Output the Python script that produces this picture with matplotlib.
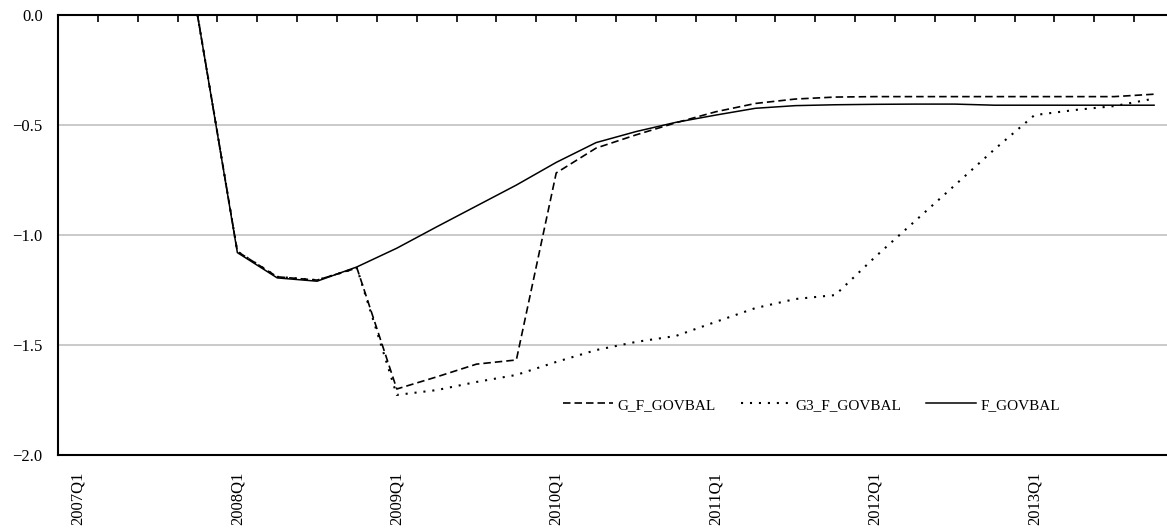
import numpy as np
import matplotlib
matplotlib.use("Agg")
import matplotlib.pyplot as plt

plt.rcParams["font.family"] = ["Liberation Serif", "DejaVu Serif"]
plt.rcParams["font.size"] = 12

# quarterly periods 2007Q1 .. 2013Q4
quarters = [f"{y}Q{q}" for y in range(2007, 2014) for q in range(1, 5)]

nan = np.nan
# government balance, three scenarios
g_f_govbal = [nan, nan, nan, 0.0, -1.075, -1.19, -1.205, -1.15,
              -1.70, -1.645, -1.587, -1.568, -0.718, -0.605, -0.545, -0.49,
              -0.44, -0.402, -0.382, -0.373, -0.371, -0.371, -0.371, -0.371,
              -0.371, -0.371, -0.371, -0.36]
g3_f_govbal = [nan, nan, nan, 0.0, -1.075, -1.19, -1.205, -1.15,
               -1.727, -1.705, -1.668, -1.636, -1.577, -1.523, -1.486, -1.459,
               -1.395, -1.332, -1.291, -1.273, -1.10, -0.937, -0.774, -0.61,
               -0.455, -0.432, -0.414, -0.38]
f_govbal = [nan, nan, nan, 0.0, -1.08, -1.195, -1.21, -1.145,
            -1.06, -0.963, -0.868, -0.773, -0.67, -0.58, -0.53, -0.488,
            -0.455, -0.424, -0.412, -0.408, -0.406, -0.405, -0.405, -0.41,
            -0.41, -0.41, -0.41, -0.41]

yticks = [0.0, -0.5, -1.0, -1.5, -2.0]

fig = plt.figure(figsize=(11.67, 5.30), dpi=100)
# right edge of the plot area runs a little past the figure
ax = fig.add_axes([58 / 1167, 1 - 455 / 530, 1116 / 1167, 440 / 530])

x = np.arange(len(quarters))
ax.plot(x, g_f_govbal, color="black", lw=1.2, ls=(0, (4.5, 2.4)), label="G_F_GOVBAL")
ax.plot(x, g3_f_govbal, color="black", lw=1.5, ls=(0, (1, 3.3)), label="G3_F_GOVBAL")
ax.plot(x, f_govbal, color="black", lw=1.1, ls="-", label="F_GOVBAL")

ax.set_xlim(-0.5, len(quarters) - 0.5)
ax.set_ylim(-2.0, 0.0)
ax.set_yticks(yticks)
ax.set_yticklabels([f"{v:.1f}".replace("-", "\u2212") for v in yticks])
for v in yticks[1:-1]:
    ax.axhline(v, color="#c6c6c6", lw=1.3, zorder=0)

q1 = [i for i, q in enumerate(quarters) if q.endswith("Q1")]
ax.set_xticks(q1)
ax.set_xticklabels([quarters[i] for i in q1], rotation=90, va="top")
ax.set_xticks(np.arange(0.5, len(quarters) - 0.5, 1.0), minor=True)
ax.tick_params(axis="x", which="major", length=0, pad=12)
ax.tick_params(axis="x", which="minor", top=True, bottom=False,
               direction="in", length=5, width=1.2)
ax.tick_params(axis="y", length=0, pad=11)

for side in ["top", "left", "bottom"]:
    ax.spines[side].set_linewidth(1.5)
ax.spines["right"].set_visible(False)

ax.legend(loc="center left", bbox_to_anchor=(0.4525, 0.114), ncol=3,
          frameon=False, fontsize=11, handlelength=3.3, handletextpad=0.25,
          columnspacing=1.65, borderpad=0, borderaxespad=0)

fig.savefig("out.png", dpi=100)
